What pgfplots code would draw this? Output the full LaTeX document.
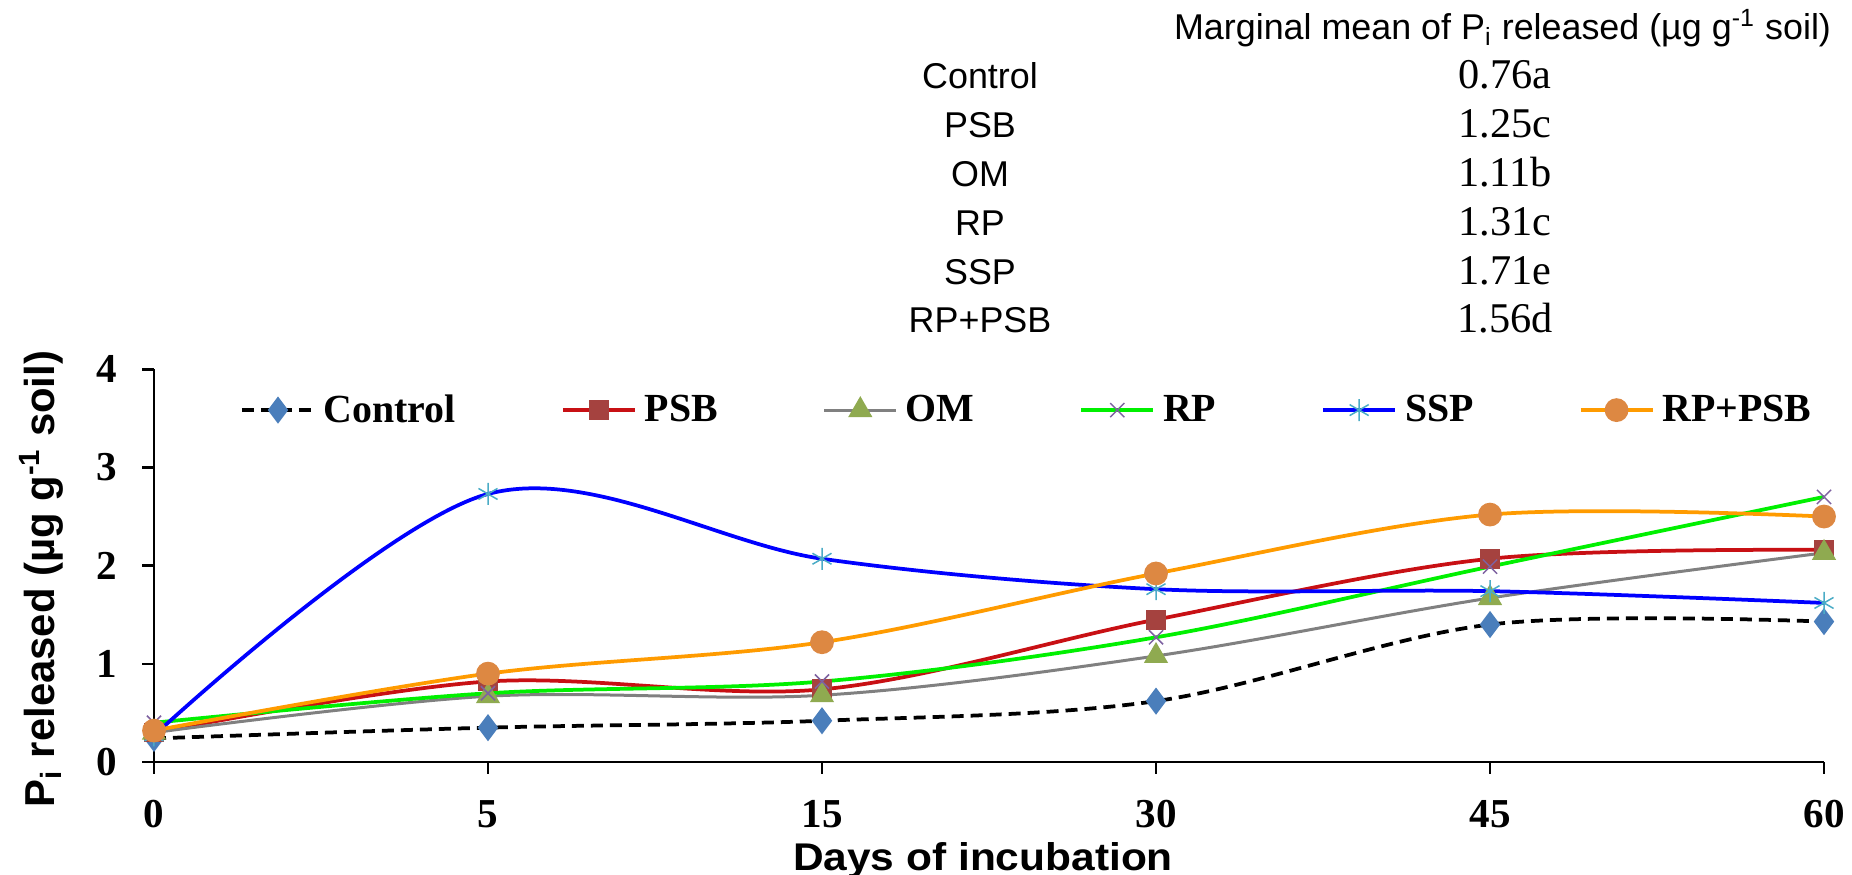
\documentclass[border=0pt]{standalone}
\usepackage{fontspec}
\setmainfont{Liberation Serif}
\newfontfamily\arialfont{Liberation Sans}
\usepackage{graphicx}
\usepackage{pgfplots}
\pgfplotsset{compat=1.18}

\definecolor{ctrlmark}{RGB}{74,126,187}
\definecolor{psbline}{RGB}{200,16,20}
\definecolor{psbmark}{RGB}{165,66,63}
\definecolor{omline}{RGB}{128,128,128}
\definecolor{ommark}{RGB}{143,170,80}
\definecolor{rpline}{RGB}{0,240,0}
\definecolor{rpmark}{RGB}{126,98,161}
\definecolor{sspline}{RGB}{0,0,255}
\definecolor{sspmark}{RGB}{75,172,198}
\definecolor{rppsbline}{RGB}{255,155,0}
\definecolor{rppsbmark}{RGB}{221,136,66}

\begin{document}
\begin{tikzpicture}
\useasboundingbox (-61.6bp,-45.2bp) rectangle (679.2bp,304.8bp);
\begin{axis}[
  at={(0,0)}, anchor=south west,
  width=668bp, height=157.1bp, scale only axis,
  xmin=0, xmax=5, ymin=0, ymax=4,
  axis x line*=bottom, axis y line*=left,
  axis line style={line width=1bp, black, -},
  xtick={0,...,5}, xticklabels={0,5,15,30,45,60},
  ytick={0,...,4},
  tick align=outside, major tick length=4.6bp,
  tick style={line width=1bp, black},
  ticklabel style={font=\bfseries\fontsize{16.5}{16.5}\selectfont, inner sep=0pt},
  xticklabel shift=10.6bp, yticklabel shift=9.8bp,
  /pgf/number format/assume math mode=true,
  clip=false,
  xlabel={\scalebox{1.1}[1]{Days of incubation}},
  ylabel={P\textsubscript{i} released (µg g\textsuperscript{-1} soil)},
  every axis x label/.style={at={(axis description cs:0.4964,-0.275)}, anchor=base,
    font=\arialfont\bfseries\fontsize{15.5}{15.5}\selectfont},
  every axis y label/.style={at={(axis description cs:-0.0593,0.466)}, rotate=90, anchor=base,
    font=\arialfont\bfseries\fontsize{16.8}{16.8}\selectfont},
  legend columns=6,
  legend style={at={(axis description cs:0.522,0.896)}, anchor=center,
    draw=none, fill=none, inner sep=0pt,
    font=\bfseries\fontsize{16}{16}\selectfont,
    nodes={inner sep=0pt},
    /tikz/every odd column/.append style={column sep=3.2bp},
    /tikz/every even column/.append style={column sep=42bp}},
  legend image code/.code={\draw[mark repeat=2, mark phase=2, #1]
    plot coordinates {(0bp,0bp) (14.4bp,0bp) (28.8bp,0bp)};},
  every axis plot/.append style={smooth, tension=0.55},
]
% Control
\addplot[black, line width=1.5bp, dash pattern=on 4.8bp off 2.8bp,
  mark=diamond*, mark size=4.2bp, mark options={solid, fill=ctrlmark, draw=ctrlmark}]
  coordinates {(0,0.24) (1,0.35) (2,0.42) (3,0.62) (4,1.40) (5,1.43)};
\addlegendentry{Control}
% PSB
\addplot[psbline, line width=1.5bp,
  mark=square*, mark size=3.2bp, mark options={fill=psbmark, draw=psbmark}]
  coordinates {(0,0.30) (1,0.82) (2,0.74) (3,1.45) (4,2.07) (5,2.16)};
\addlegendentry{PSB}
% OM
\addplot[omline, line width=1.2bp,
  mark=triangle*, mark size=4.4bp, mark options={fill=ommark, draw=ommark}]
  coordinates {(0,0.30) (1,0.67) (2,0.68) (3,1.08) (4,1.67) (5,2.13)};
\addlegendentry{OM}
% RP
\addplot[rpline, line width=1.5bp,
  mark=x, mark size=4bp, mark options={draw=rpmark, line width=0.6bp}]
  coordinates {(0,0.40) (1,0.70) (2,0.82) (3,1.27) (4,1.99) (5,2.70)};
\addlegendentry{RP}
% SSP
\addplot[sspline, line width=1.5bp,
  mark=asterisk, mark size=4.4bp, mark options={draw=sspmark, line width=0.6bp}]
  coordinates {(0,0.27) (1,2.73) (2,2.07) (3,1.76) (4,1.74) (5,1.62)};
\addlegendentry{SSP}
% RP+PSB
\addplot[rppsbline, line width=1.5bp,
  mark=*, mark size=4bp, mark options={fill=rppsbmark, draw=rppsbmark}]
  coordinates {(0,0.32) (1,0.90) (2,1.22) (3,1.92) (4,2.52) (5,2.50)};
\addlegendentry{RP+PSB}
\end{axis}

% marginal means table above the plot
\node[anchor=base, font=\arialfont\fontsize{14.4}{14.4}\selectfont] at (539.4bp,288.8bp)
  {Marginal mean of P\textsubscript{i} released (µg g\textsuperscript{-1} soil)};
\begin{scope}[every node/.style={anchor=base}]
  \foreach \name/\val [count=\k from 0] in
    {Control/0.76a, PSB/1.25c, OM/1.11b, RP/1.31c, SSP/1.71e, RP+PSB/1.56d} {
    \node[font=\arialfont\fontsize{14.4}{14.4}\selectfont] at (330.4bp,{269.2bp-19.52bp*\k}) {\name};
    \node[font=\fontsize{17}{17}\selectfont] at (540.4bp,{269.2bp-19.52bp*\k}) {\val};
  }
\end{scope}
\end{tikzpicture}
\end{document}
